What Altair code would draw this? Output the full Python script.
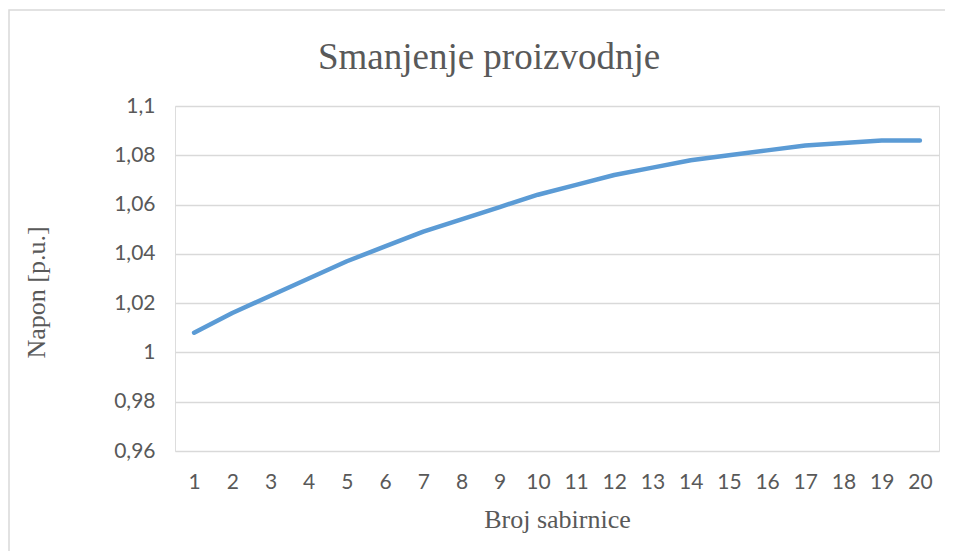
import altair as alt
import pandas as pd

buses = list(range(1, 21))
voltage = [1.008, 1.016, 1.023, 1.030, 1.037, 1.043, 1.049, 1.054, 1.059, 1.064,
           1.068, 1.072, 1.075, 1.078, 1.080, 1.082, 1.084, 1.085, 1.086, 1.086]
y_ticks = [0.96, 0.98, 1.00, 1.02, 1.04, 1.06, 1.08, 1.10]

title_text = "Smanjenje proizvodnje"
x_title = "Broj sabirnice"
y_title = "Napon [p.u.]"

df = pd.DataFrame({"bus": buses, "v": voltage})

W, H = 764, 345
label_color = "#595959"

line = alt.Chart(df).mark_line(color="#5B9BD5", strokeWidth=4.5, strokeCap="round", strokeJoin="round").encode(
    x=alt.X("bus:O", scale=alt.Scale(padding=0.5),
            axis=alt.Axis(title=x_title, labelAngle=0, ticks=False, domain=False, grid=False,
                          labelFont="Lato", labelFontSize=21, labelColor=label_color,
                          labelPadding=20,
                          titleFont="Liberation Serif", titleFontSize=26, titleFontWeight="normal",
                          titleColor=label_color, titlePadding=14)),
    y=alt.Y("v:Q", scale=alt.Scale(domain=[0.96, 1.10], nice=False, zero=False),
            axis=alt.Axis(title=y_title, values=y_ticks, ticks=False, domain=False,
                          gridColor="#D9D9D9", gridWidth=1.3,
                          labelExpr="replace(format(datum.value, '.2~f'), '.', ',')",
                          labelFont="Lato", labelFontSize=21, labelColor=label_color,
                          labelPadding=20,
                          titleFont="Liberation Serif", titleFontSize=26, titleFontWeight="normal",
                          titleColor=label_color, titleX=-139, titleY=186,
                          titleAlign="center", titleBaseline="middle", titleAngle=-90)),
)

frame = alt.Chart(pd.DataFrame({"k": [0]})).mark_rect(
    fill="transparent", fillOpacity=0, stroke="#D9D9D9", strokeWidth=1.5, clip=False
).encode(
    x=alt.value(-166), x2=alt.value(W + 300), y=alt.value(-96), y2=alt.value(H + 300)
)

chart = alt.layer(frame, line).properties(
    width=W, height=H,
    title=alt.TitleParams(title_text, font="Liberation Serif", fontSize=37, fontWeight="normal",
                          color=label_color, dx=-68, offset=-68, anchor="middle"),
    autosize=alt.AutoSizeParams(type="none"),
    padding={"left": 167, "top": 98, "right": 6, "bottom": 100},
).configure_view(stroke=None).configure(background="white")

chart.save("out.html", embed_options={"renderer": "svg", "actions": False})
